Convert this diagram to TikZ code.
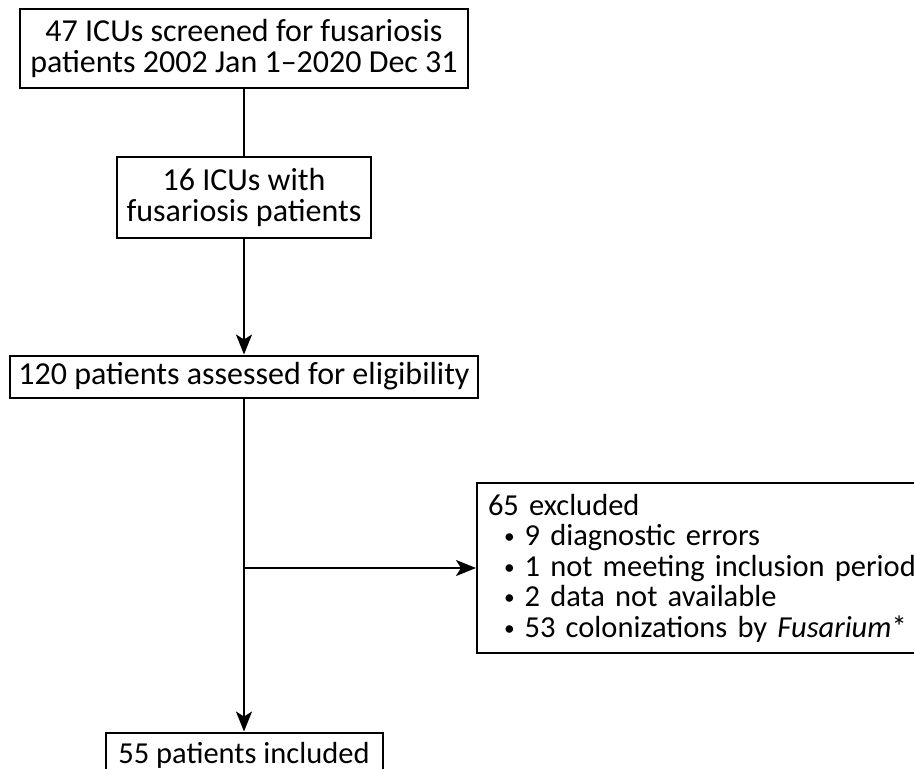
\documentclass[tikz,border=0pt]{standalone}
\usepackage{fontspec}
\setmainfont{Carlito}
\usetikzlibrary{arrows.meta}
\newcommand{\exbullet}{\hspace*{8pt}\raisebox{0.12ex}{\scalebox{0.7}{\textbullet}}\hspace{5pt}}

\begin{document}
\begin{tikzpicture}[x=0.5pt,y=-0.5pt,font=\fontsize{16}{15.5}\selectfont,
	box/.style={draw,line width=1pt,align=center,inner sep=0pt},
	conn/.style={line width=1pt,-{Stealth[length=10pt,width=8pt,inset=2.5pt]}}]
	\useasboundingbox (0,0) rectangle (914,768);
	\node[box,minimum width=224pt,minimum height=39.5pt] (screen) at (244,48.5)
		{47 ICUs screened for fusariosis\\patients 2002 Jan 1--2020 Dec 31};
	\node[box,minimum width=127pt,minimum height=40.5pt] (icus) at (244,197.5)
		{16 ICUs with\\fusariosis patients};
	\node[box,minimum width=234pt,minimum height=21pt] (elig) at (244,376.5)
		{120 patients assessed for eligibility};
	\node[box,align=left,anchor=west,inner xsep=5.5pt,minimum height=85pt,text width=240pt,
		font=\fontsize{15.25}{15.25}\selectfont] (excl) at (476,568)
		{65 excluded\\
		\exbullet 9 diagnostic errors\\
		\exbullet 1 not meeting inclusion period\\
		\exbullet 2 data not available\\
		\exbullet 53 colonizations by \textit{Fusarium}*};
	\node[box,minimum width=138.5pt,minimum height=22.5pt,font=\fontsize{15.25}{15.25}\selectfont] (incl) at (244,755)
		{\raisebox{-1pt}{55 patients included}};
	\path[conn]
	(screen) edge[-] (icus)
	(icus) edge (elig)
	(elig) edge (incl)
	(elig.south|-excl.west) edge (excl);
\end{tikzpicture}
\end{document}
